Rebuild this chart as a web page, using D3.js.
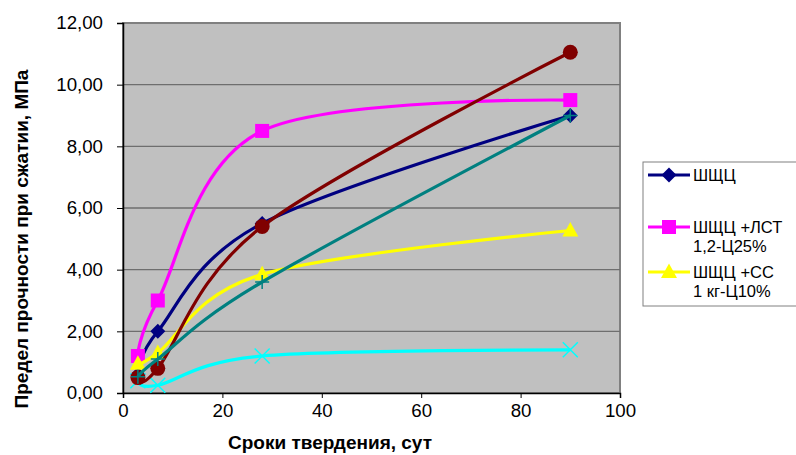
<!DOCTYPE html>
<html><head><meta charset="utf-8">
<script src="https://cdn.jsdelivr.net/npm/d3@7"></script>
<style>body{margin:0;background:#fff}svg{display:block;font-family:"Liberation Sans",Arial,sans-serif}</style>
</head><body><svg id="c" width="796" height="455"></svg>
<script>
const days = [3, 7, 28, 90];
const seriesNames = ["ШЩЦ", "ШЩЦ +ЛСТ 1,2-Ц25%", "ШЩЦ +СС 1 кг-Ц10%", "s4", "s6", "s7"];
const sShchc = [0.6, 2.0, 5.5, 9.0];
const sLst = [1.2, 3.0, 8.5, 9.5];
const sSs = [0.95, 1.3, 3.85, 5.27];
const sCyan = [0.4, 0.25, 1.2, 1.4];
const sRed = [0.5, 0.8, 5.4, 11.05];
const sTeal = [0.53, 1.1, 3.6, 9.0];
const xTicks = [0, 20, 40, 60, 80, 100];
const yTicks = [0, 2, 4, 6, 8, 10, 12];
const legendLines = [["ШЩЦ"], ["ШЩЦ +ЛСТ", "1,2-Ц25%"], ["ШЩЦ +СС", "1 кг-Ц10%"]];

const series = [
  {v: sShchc, color: "#000080", marker: "diamond"},
  {v: sLst, color: "#FF00FF", marker: "square"},
  {v: sSs, color: "#FFFF00", marker: "triangle"},
  {v: sCyan, color: "#00FFFF", marker: "x"},
  {v: sRed, color: "#800000", marker: "circle"},
  {v: sTeal, color: "#008080", marker: "plus"}
];

const svg = d3.select("#c");
const L = 123, R = 620, T = 23, B = 393;
const x = d3.scaleLinear().domain([0, 100]).range([L, R]);
const y = d3.scaleLinear().domain([0, 12]).range([B, T]);

svg.append("rect").attr("x", L).attr("y", T).attr("width", R - L).attr("height", B - T)
  .attr("fill", "#C0C0C0").attr("stroke", "#808080").attr("stroke-width", 2);

svg.append("g").selectAll("line").data(yTicks.filter(d => d > 0 && d < 12)).join("line")
  .attr("x1", L).attr("x2", R).attr("y1", d => y(d)).attr("y2", d => y(d))
  .attr("stroke", "#6e6e6e").attr("stroke-width", 1.3);

const fmt = d => d.toFixed(2).replace(".", ",");
const yAxis = svg.append("g").attr("transform", `translate(${L},0)`)
  .call(d3.axisLeft(y).tickValues(yTicks).tickFormat(fmt).tickSize(6).tickPadding(14));
const xAxis = svg.append("g").attr("transform", `translate(0,${B})`)
  .call(d3.axisBottom(x).tickValues(xTicks).tickSize(5).tickPadding(6));
[yAxis, xAxis].forEach(a => {
  a.select(".domain").attr("stroke", "#000").attr("stroke-width", 1.5);
  a.selectAll(".tick line").attr("stroke", "#000");
  a.selectAll("text").attr("font-size", 18.7).attr("fill", "#000")
   .attr("font-family", "Liberation Sans, Arial, sans-serif");
});

const line = d3.line().x((d, i) => x(days[i])).y(d => y(d)).curve(d3.curveCardinal.tension(0));

function drawMarker(g, m, color, cx, cy) {
  if (m === "diamond") g.append("path").attr("d", `M${cx},${cy-7.5}L${cx+7.5},${cy}L${cx},${cy+7.5}L${cx-7.5},${cy}Z`).attr("fill", color);
  else if (m === "square") g.append("rect").attr("x", cx-7).attr("y", cy-7).attr("width", 14).attr("height", 14).attr("fill", color);
  else if (m === "triangle") g.append("path").attr("d", `M${cx},${cy-8.5}L${cx+8},${cy+6}L${cx-8},${cy+6}Z`).attr("fill", color);
  else if (m === "circle") g.append("circle").attr("cx", cx).attr("cy", cy).attr("r", 7.5).attr("fill", color);
  else if (m === "x") g.append("path").attr("d", `M${cx-7.5},${cy-7.5}L${cx+7.5},${cy+7.5}M${cx-7.5},${cy+7.5}L${cx+7.5},${cy-7.5}`).attr("stroke", color).attr("stroke-width", 1.5);
  else if (m === "plus") g.append("path").attr("d", `M${cx-7},${cy}L${cx+7},${cy}M${cx},${cy-7}L${cx},${cy+7}`).attr("stroke", color).attr("stroke-width", 1.5);
}

series.forEach(s => {
  const g = svg.append("g");
  g.append("path").attr("d", line(s.v)).attr("fill", "none").attr("stroke", s.color).attr("stroke-width", 3.2);
  s.v.forEach((v, i) => drawMarker(g, s.marker, s.color, x(days[i]), y(v)));
});

svg.append("text").attr("x", 330).attr("y", 449).attr("text-anchor", "middle")
  .attr("font-size", 19).attr("font-weight", "bold").text("Сроки твердения, сут");
svg.append("text").attr("transform", "translate(28,239) rotate(-90)").attr("text-anchor", "middle")
  .attr("font-size", 19).attr("font-weight", "bold").text("Предел прочности при сжатии, МПа");

const lg = svg.append("g");
lg.append("rect").attr("x", 643).attr("y", 162).attr("width", 170).attr("height", 144)
  .attr("fill", "#fff").attr("stroke", "#808080").attr("stroke-width", 1);
const legY = [175, 227, 272];
legendLines.forEach((lines, i) => {
  const s = series[i];
  lg.append("line").attr("x1", 648).attr("x2", 690).attr("y1", legY[i]).attr("y2", legY[i])
    .attr("stroke", s.color).attr("stroke-width", 3);
  drawMarker(lg, s.marker, s.color, 669, legY[i]);
  const t = lg.append("text").attr("x", 693).attr("y", legY[i] + 6).attr("font-size", 16.5);
  lines.forEach((ln, j) => t.append("tspan").attr("x", 693).attr("dy", j ? 19 : 0).text(ln));
});
</script></body></html>
